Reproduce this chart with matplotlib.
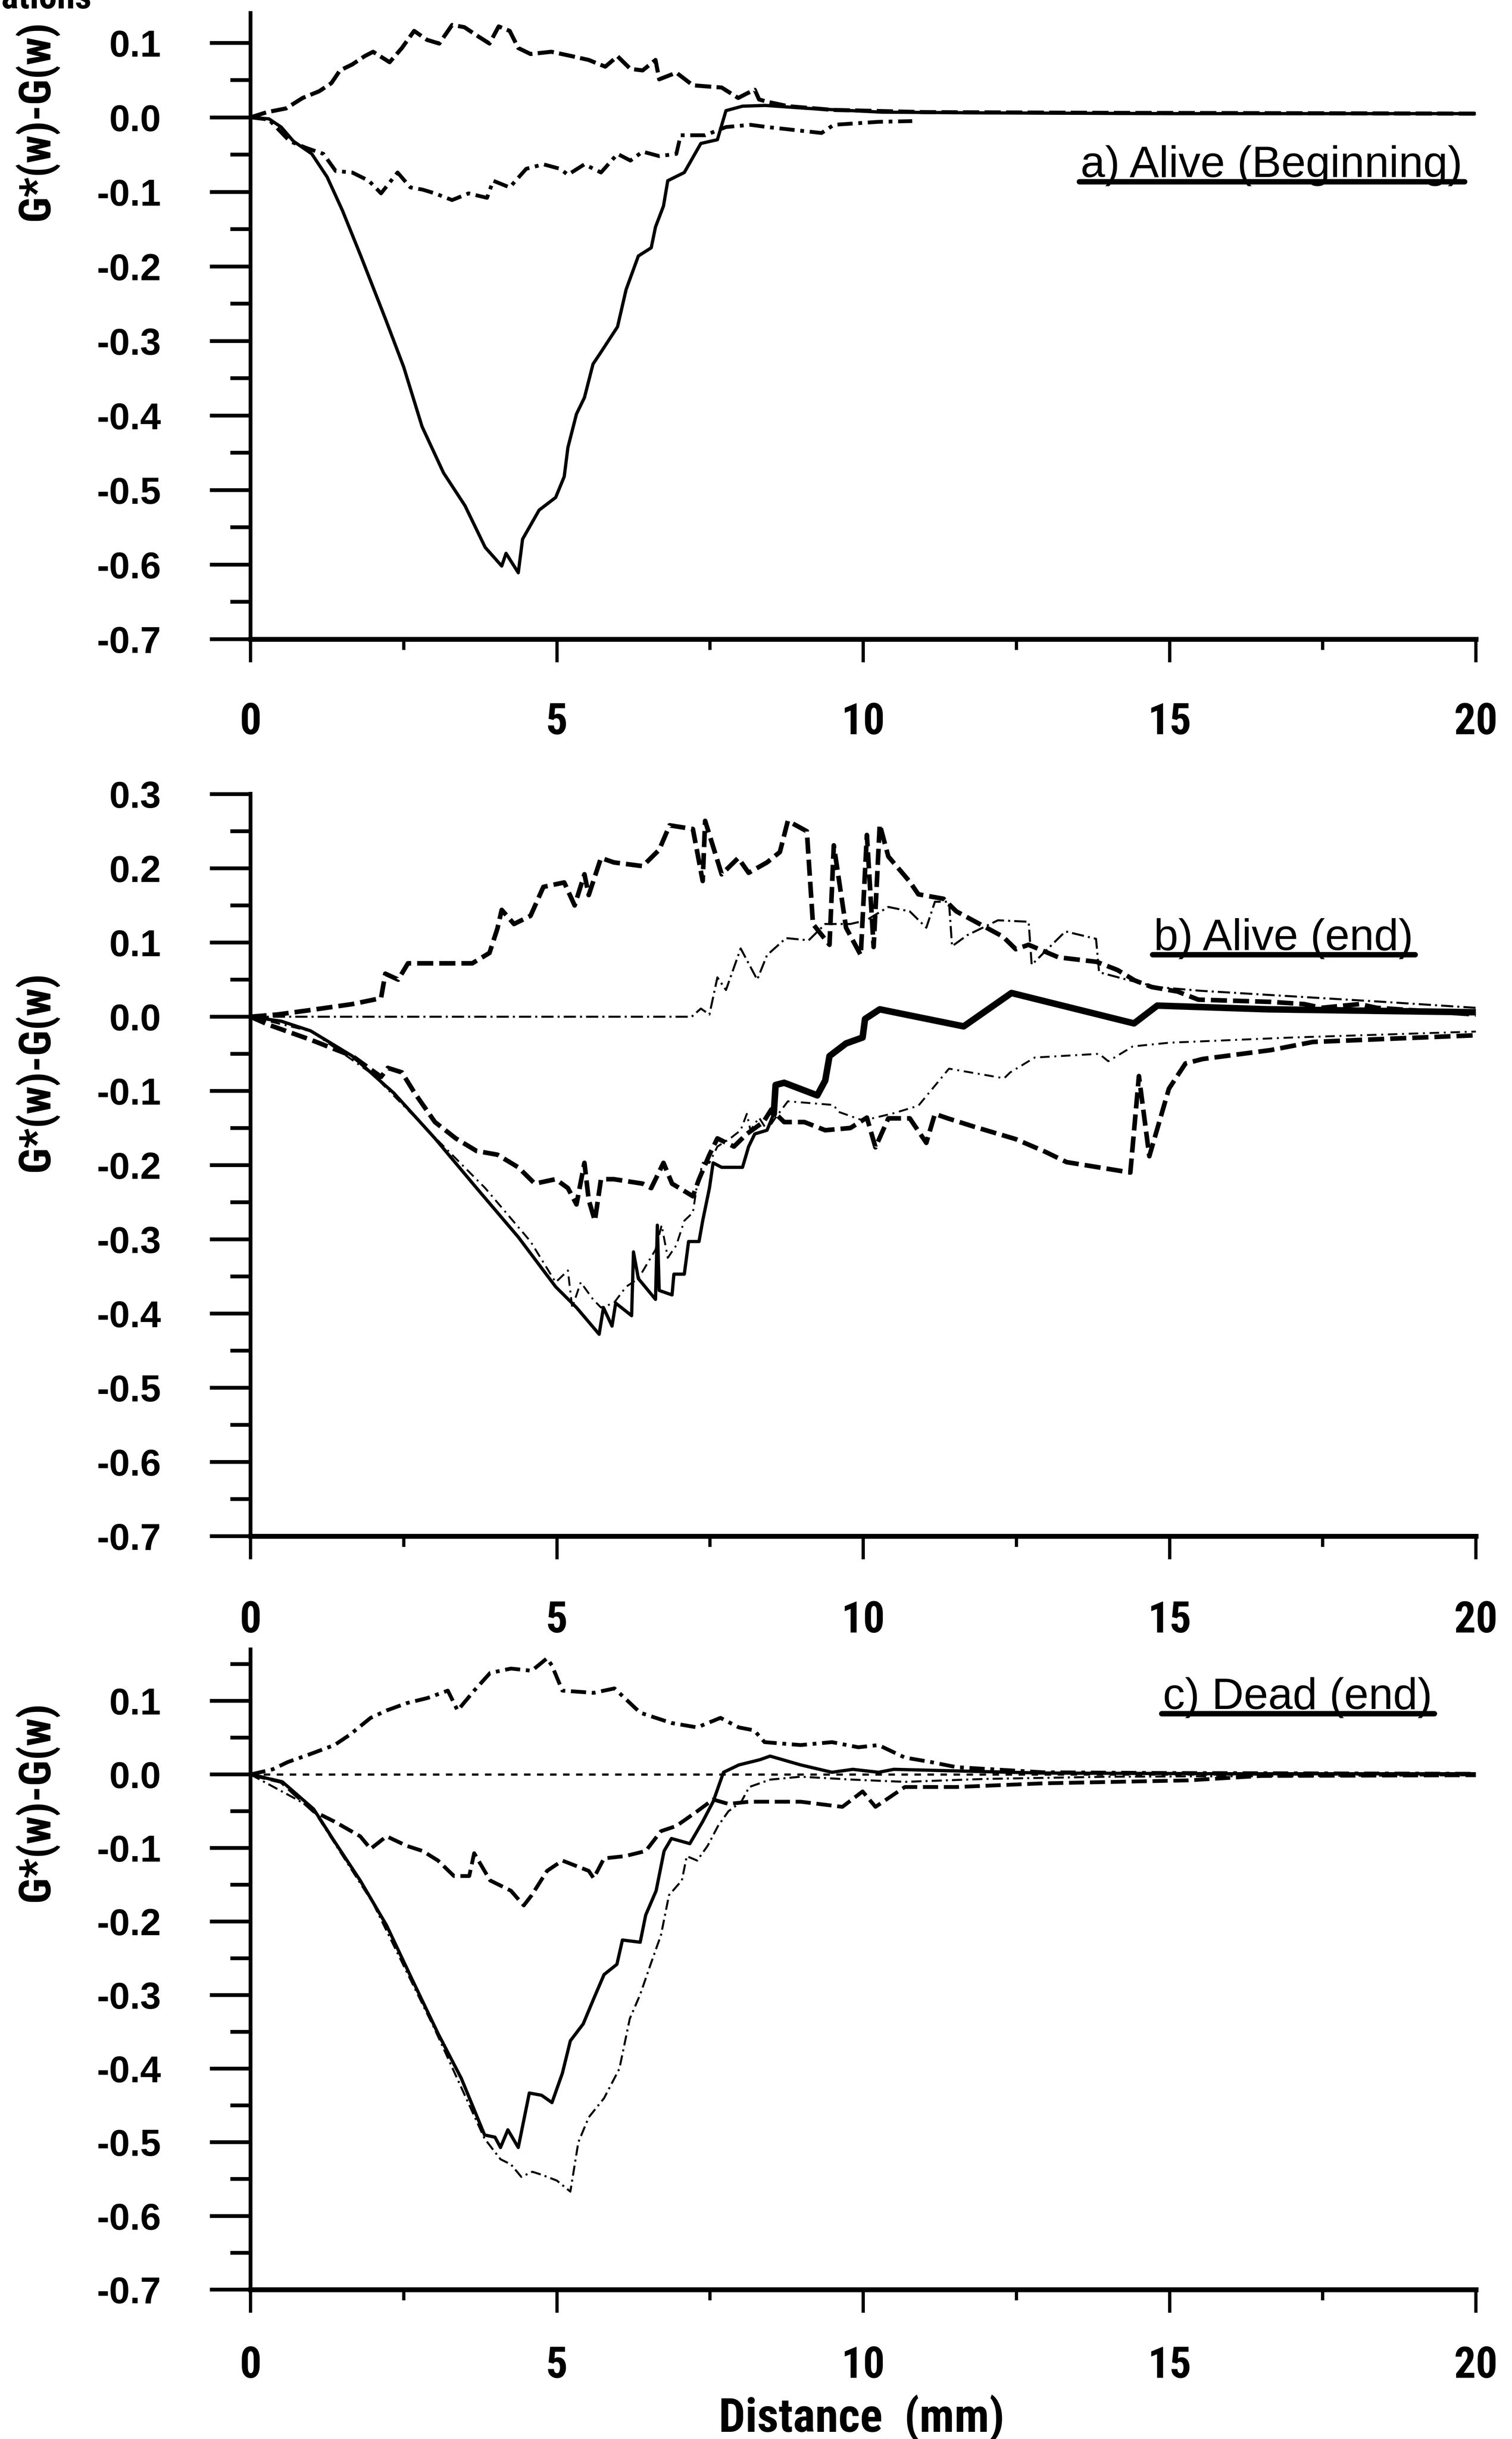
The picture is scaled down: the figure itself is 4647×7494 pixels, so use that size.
import numpy as np
import matplotlib
matplotlib.use("Agg")
import matplotlib.pyplot as plt
from matplotlib import font_manager
from matplotlib.font_manager import FontProperties
from matplotlib.ticker import MultipleLocator, FuncFormatter
from matplotlib.lines import Line2D

# ---------------------------------------------------------------- data
x_ticks = [0, 5, 10, 15, 20]
ylabel_text = "G*(w)-G(w)"
xlabel_text = "Distance  (mm)"
panel_titles = ["a) Alive (Beginning)", "b) Alive (end)", "c) Dead (end)"]

# a) Alive (Beginning)
a_solid_x = [0, 0.3, 0.5, 0.7, 1.0, 1.25, 1.5, 1.8, 2.2, 2.5, 2.8, 3.15, 3.5, 3.83, 4.1, 4.17,
             4.37, 4.44, 4.71, 4.98, 5.12, 5.18, 5.32, 5.45, 5.59, 5.72, 5.99, 6.13, 6.33, 6.54,
             6.61, 6.74, 6.81, 7.08, 7.35, 7.62, 7.76, 8.03, 8.4, 9.1, 10.3, 12, 15, 20]
a_solid_y = [0, -0.002, -0.013, -0.032, -0.049, -0.08, -0.125, -0.186, -0.27, -0.335, -0.415,
             -0.477, -0.521, -0.577, -0.602, -0.585, -0.611, -0.566, -0.527, -0.51, -0.482,
             -0.443, -0.398, -0.376, -0.331, -0.315, -0.281, -0.231, -0.186, -0.175, -0.147,
             -0.119, -0.085, -0.074, -0.035, -0.03, 0.009, 0.015, 0.016, 0.012, 0.007, 0.006,
             0.005, 0.005]
a_up_x = [0, 0.27, 0.58, 0.85, 1.12, 1.32, 1.46, 1.66, 1.86, 2.0, 2.27, 2.47, 2.67, 2.88, 3.08,
          3.29, 3.49, 3.69, 3.9, 4.05, 4.23, 4.37, 4.57, 4.91, 5.25, 5.52, 5.79, 5.99, 6.2,
          6.4, 6.61, 6.67, 6.95, 7.22, 7.69, 7.96, 8.1, 8.23, 8.3, 8.43, 8.77, 9.5, 11, 14, 20]
a_up_y = [0, 0.007, 0.012, 0.026, 0.035, 0.046, 0.063, 0.071, 0.082, 0.088, 0.074, 0.093,
          0.116, 0.104, 0.099, 0.124, 0.121, 0.11, 0.099, 0.122, 0.116, 0.093, 0.085, 0.088,
          0.082, 0.077, 0.068, 0.082, 0.065, 0.063, 0.077, 0.051, 0.06, 0.043, 0.04, 0.026,
          0.032, 0.037, 0.024, 0.021, 0.015, 0.01, 0.007, 0.006, 0.005]
a_low_x = [0, 0.3, 0.64, 0.91, 1.19, 1.39, 1.66, 1.93, 2.13, 2.4, 2.61, 2.81, 3.01, 3.29, 3.56,
           3.86, 3.96, 4.23, 4.5, 4.78, 5.05, 5.18, 5.45, 5.72, 5.99, 6.2, 6.4, 6.67, 6.95,
           7.02, 7.42, 7.76, 8.16, 8.43, 8.77, 9.32, 9.52, 10.25, 10.8]
a_low_y = [0, -0.003, -0.032, -0.041, -0.049, -0.072, -0.074, -0.085, -0.102, -0.074, -0.094,
           -0.097, -0.102, -0.111, -0.102, -0.108, -0.085, -0.094, -0.069, -0.063, -0.069,
           -0.077, -0.063, -0.074, -0.049, -0.058, -0.046, -0.052, -0.049, -0.024, -0.024,
           -0.013, -0.01, -0.013, -0.016, -0.021, -0.01, -0.006, -0.005]

# b) Alive (end)
b_solid_x = [0, 0.5, 0.98, 1.66, 2.34, 3.01, 3.69, 4.37, 4.98, 5.32, 5.69, 5.76, 5.9, 5.96,
             6.22, 6.25, 6.33, 6.61, 6.64, 6.67, 6.88, 6.91, 7.08, 7.15, 7.32, 7.38, 7.49,
             7.55, 7.69, 8.03, 8.13, 8.23, 8.43, 8.54, 8.57, 8.71, 9.25, 9.38, 9.45, 9.72,
             9.99, 10.03, 10.27, 11.64, 12.42, 14.42, 14.8, 16.6, 20]
b_solid_y = [0, -0.006, -0.019, -0.053, -0.103, -0.164, -0.231, -0.297, -0.364, -0.392,
             -0.428, -0.392, -0.417, -0.386, -0.403, -0.317, -0.353, -0.381, -0.281, -0.369,
             -0.375, -0.347, -0.347, -0.303, -0.303, -0.275, -0.231, -0.197, -0.203, -0.203,
             -0.175, -0.158, -0.153, -0.131, -0.092, -0.089, -0.106, -0.086, -0.053, -0.036,
             -0.028, -0.003, 0.01, -0.013, 0.032, -0.009, 0.015, 0.01, 0.006]
b_up_x = [0, 0.44, 0.98, 1.66, 2.13, 2.2, 2.41, 2.57, 3.62, 3.9, 4.03, 4.1, 4.3, 4.57, 4.78,
          5.12, 5.29, 5.45, 5.52, 5.72, 5.93, 6.4, 6.67, 6.84, 7.22, 7.38, 7.42, 7.69, 7.96,
          8.13, 8.43, 8.64, 8.77, 9.08, 9.18, 9.45, 9.52, 9.72, 9.96, 10.06, 10.17, 10.27,
          10.41, 10.76, 10.9, 11.31, 11.52, 12.28, 12.49, 12.7, 13.19, 13.81, 14.15, 14.43,
          14.71, 15.13, 15.47, 16.65, 17.2, 17.48, 18.1, 18.38, 20]
b_up_y = [0, 0.003, 0.009, 0.017, 0.025, 0.058, 0.05, 0.072, 0.072, 0.086, 0.119, 0.144,
          0.125, 0.136, 0.175, 0.181, 0.15, 0.192, 0.164, 0.214, 0.208, 0.203, 0.225, 0.258,
          0.253, 0.183, 0.264, 0.192, 0.214, 0.194, 0.208, 0.222, 0.264, 0.25, 0.125, 0.097,
          0.231, 0.12, 0.083, 0.245, 0.094, 0.259, 0.216, 0.182, 0.165, 0.159, 0.142, 0.108,
          0.091, 0.097, 0.08, 0.074, 0.063, 0.049, 0.04, 0.034, 0.023, 0.02, 0.017, 0.012,
          0.017, 0.012, 0.003]
b_low_x = [0, 0.3, 0.98, 1.66, 2.13, 2.24, 2.47, 2.68, 3.01, 3.35, 3.69, 4.03, 4.37, 4.64,
           4.98, 5.18, 5.32, 5.45, 5.52, 5.62, 5.72, 5.93, 6.4, 6.54, 6.74, 6.88, 7.22, 7.32,
           7.49, 7.62, 7.89, 8.1, 8.37, 8.5, 8.71, 9.04, 9.38, 9.79, 10.06, 10.2, 10.41,
           10.76, 11.03, 11.17, 11.38, 11.8, 12.49, 12.97, 13.32, 14.36, 14.5, 14.67, 14.99,
           15.26, 15.54, 16.65, 17.34, 18.5, 20]
b_low_y = [0, -0.011, -0.031, -0.053, -0.081, -0.069, -0.075, -0.103, -0.142, -0.164, -0.181,
           -0.186, -0.203, -0.225, -0.219, -0.231, -0.253, -0.197, -0.247, -0.275, -0.219,
           -0.219, -0.225, -0.231, -0.197, -0.225, -0.242, -0.219, -0.186, -0.164, -0.175,
           -0.158, -0.142, -0.125, -0.142, -0.142, -0.153, -0.15, -0.136, -0.176, -0.137,
           -0.137, -0.17, -0.131, -0.137, -0.148, -0.165, -0.182, -0.196, -0.21, -0.08,
           -0.188, -0.097, -0.063, -0.057, -0.045, -0.034, -0.03, -0.025]
b_flat_x = [0, 7.2, 7.35, 7.49, 7.62, 7.76, 8.0, 8.27, 8.43, 8.74, 9.11, 9.38, 9.79, 10.05,
            10.41, 10.76, 11.03, 11.17, 11.4, 11.45, 11.7, 12.2, 12.7, 12.75, 13.3, 13.8,
            13.85, 14.3, 14.8, 15.5, 16.5, 17.5, 18.5, 20]
b_flat_y = [0, 0, 0.011, 0.003, 0.053, 0.036, 0.092, 0.05, 0.083, 0.106, 0.103, 0.125, 0.125,
            0.13, 0.148, 0.142, 0.12, 0.155, 0.155, 0.095, 0.11, 0.13, 0.128, 0.07, 0.115,
            0.105, 0.06, 0.05, 0.04, 0.035, 0.03, 0.025, 0.02, 0.012]
b_dd_x = [0, 1.0, 2.0, 3.0, 3.83, 4.57, 4.98, 5.18, 5.25, 5.39, 5.59, 5.72, 5.93, 6.13, 6.33,
          6.61, 6.71, 6.81, 6.95, 7.08, 7.22, 7.28, 7.38, 7.49, 7.62, 7.83, 8.0, 8.1, 8.16,
          8.3, 8.43, 8.57, 8.77, 9.52, 9.59, 10.0, 10.5, 10.9, 11.2, 11.4, 12.3, 12.4, 12.8,
          13.85, 14.0, 14.4, 15.0, 17.0, 20]
b_dd_y = [0, -0.02, -0.078, -0.162, -0.231, -0.303, -0.358, -0.342, -0.392, -0.358, -0.381,
          -0.392, -0.386, -0.364, -0.353, -0.314, -0.281, -0.325, -0.308, -0.275, -0.264,
          -0.231, -0.197, -0.197, -0.175, -0.164, -0.153, -0.131, -0.153, -0.136, -0.153,
          -0.136, -0.114, -0.119, -0.128, -0.14, -0.13, -0.12, -0.09, -0.07, -0.083, -0.075,
          -0.055, -0.05, -0.06, -0.04, -0.035, -0.028, -0.02]

# c) Dead (end)
c_solid_x = [0, 0.52, 1.03, 1.37, 1.79, 2.22, 2.64, 3.06, 3.44, 3.82, 3.99, 4.08, 4.2, 4.37,
             4.55, 4.75, 4.92, 5.09, 5.22, 5.43, 5.6, 5.77, 5.98, 6.07, 6.36, 6.45, 6.62,
             6.75, 6.87, 7.17, 7.38, 7.55, 7.72, 7.97, 8.31, 8.48, 8.98, 9.49, 9.83, 10.25,
             10.5, 12.9, 16, 20]
c_solid_y = [0, -0.01, -0.047, -0.091, -0.144, -0.205, -0.279, -0.352, -0.413, -0.49, -0.493,
             -0.507, -0.483, -0.507, -0.433, -0.436, -0.446, -0.406, -0.362, -0.339, -0.305,
             -0.272, -0.258, -0.225, -0.228, -0.191, -0.158, -0.104, -0.087, -0.094, -0.064,
             -0.037, 0.003, 0.013, 0.02, 0.025, 0.013, 0.003, 0.007, 0.003, 0.007, 0.002,
             0.001, 0.001]
c_dd_x = [0, 1.0, 2.0, 3.0, 3.82, 4.08, 4.25, 4.42, 4.6, 4.75, 5.0, 5.22, 5.35, 5.52, 5.77,
          6.02, 6.19, 6.36, 6.53, 6.7, 6.83, 7.04, 7.12, 7.29, 7.46, 7.63, 7.8, 8.01, 8.14,
          8.48, 8.98, 9.83, 10.68, 12, 14, 20]
c_dd_y = [0, -0.045, -0.175, -0.345, -0.495, -0.523, -0.53, -0.547, -0.54, -0.544, -0.552,
          -0.567, -0.5, -0.466, -0.44, -0.4, -0.332, -0.299, -0.258, -0.218, -0.164, -0.144,
          -0.111, -0.117, -0.097, -0.07, -0.05, -0.037, -0.017, -0.007, -0.003, -0.007,
          -0.01, -0.006, -0.003, -0.001]
c_up_x = [0, 0.36, 0.61, 0.95, 1.37, 1.62, 1.96, 2.22, 2.55, 2.89, 3.22, 3.38, 3.65, 3.91,
          4.25, 4.59, 4.84, 4.92, 5.09, 5.6, 5.94, 6.36, 6.87, 7.29, 7.67, 7.97, 8.22, 8.39,
          8.98, 9.49, 9.92, 10.25, 10.68, 11.1, 11.52, 12.94, 15, 20]
c_up_y = [0, 0.007, 0.017, 0.027, 0.04, 0.054, 0.077, 0.087, 0.097, 0.104, 0.114, 0.087,
          0.114, 0.138, 0.144, 0.141, 0.158, 0.148, 0.114, 0.111, 0.117, 0.084, 0.07, 0.064,
          0.077, 0.064, 0.06, 0.044, 0.04, 0.044, 0.037, 0.04, 0.023, 0.017, 0.01, 0.003,
          0.002, 0.001]
c_low_x = [0, 0.5, 1.03, 1.37, 1.79, 1.96, 2.22, 2.55, 2.81, 3.06, 3.32, 3.57, 3.65, 3.91,
           4.25, 4.46, 4.59, 4.84, 5.09, 5.52, 5.6, 5.77, 6.11, 6.45, 6.7, 6.95, 7.29, 7.55,
           7.8, 8.14, 8.98, 9.66, 9.99, 10.2, 10.68, 11.52, 12.94, 15.3, 16.5, 20]
c_low_y = [0, -0.01, -0.05, -0.064, -0.084, -0.101, -0.084, -0.097, -0.104, -0.117, -0.138,
           -0.138, -0.107, -0.144, -0.158, -0.178, -0.164, -0.131, -0.117, -0.131, -0.141,
           -0.114, -0.111, -0.104, -0.077, -0.07, -0.05, -0.034, -0.04, -0.037, -0.037,
           -0.044, -0.023, -0.044, -0.017, -0.017, -0.012, -0.008, -0.002, -0.001]
c_flat_x = [0, 20]
c_flat_y = [0, 0]

# ---------------------------------------------------------------- fonts
plt.rcParams["font.family"] = ["Liberation Sans", "DejaVu Sans"]
plt.rcParams["font.weight"] = "bold"


def find_condensed_bold():
    """Return a narrow bold face if one is installed."""
    best = None
    for f in font_manager.fontManager.ttflist:
        narrow = (f.stretch in ("condensed", "semi-condensed", "extra-condensed")
                  or "Narrow" in f.name or "Condensed" in f.name)
        weight = f.weight if isinstance(f.weight, int) else (700 if "bold" in str(f.weight) else 400)
        if narrow and weight >= 600 and f.style == "normal":
            score = 0 if "Liberation" in f.name else (1 if "Roboto" in f.name else 2)
            if best is None or score < best[0]:
                best = (score, f.fname)
    return best[1] if best else None


cond_path = find_condensed_bold()


def narrow_font(size):
    if cond_path:
        return FontProperties(fname=cond_path, size=size * 1.12)
    return FontProperties(family=["Liberation Sans", "DejaVu Sans"], weight="bold", size=size)


W, H, DPI = 4647, 7494, 300
fig = plt.figure(figsize=(W / DPI, H / DPI), dpi=DPI, facecolor="white")

LEFT, WIDTH = 770 / W, 3766 / W
YT = 27.5    # y tick labels
XT = 28.5    # x tick labels


def fmt_y(v, pos):
    if abs(v) < 1e-9:
        return "0.0"
    return f"{v:.1f}"


def make_axes(bottom_px, top_px, ytop, xpad):
    ax = fig.add_axes([LEFT, 1 - bottom_px / H, WIDTH, (bottom_px - top_px) / H])
    ax.set_xlim(0, 20)
    ax.set_ylim(-0.7002, ytop)
    ax.patch.set_alpha(0)
    for s in ("top", "right"):
        ax.spines[s].set_visible(False)
    ax.spines["left"].set_linewidth(2.8)
    ax.spines["bottom"].set_linewidth(3.6)
    ax.xaxis.set_major_locator(MultipleLocator(5))
    ax.xaxis.set_minor_locator(MultipleLocator(2.5))
    ax.yaxis.set_major_locator(MultipleLocator(0.1))
    ax.yaxis.set_minor_locator(MultipleLocator(0.05))
    ax.tick_params(axis="x", which="major", direction="out", length=17, width=2.4,
                   pad=xpad, labelsize=XT)
    ax.tick_params(axis="x", which="minor", direction="out", length=8, width=2.4)
    ax.tick_params(axis="y", which="major", direction="out", length=30, width=2.8,
                   pad=36, labelsize=YT)
    ax.tick_params(axis="y", which="minor", direction="out", length=15, width=2.8)
    ax.set_xticks(x_ticks)
    ax.xaxis.set_major_formatter(FuncFormatter(lambda v, p: f"{v:.0f}"))
    ax.yaxis.set_major_formatter(FuncFormatter(fmt_y))
    for tk in ax.xaxis.get_major_ticks():
        tk.label1.set_fontproperties(narrow_font(XT))
    return ax


ax_a = make_axes(1964, 40, 0.14, 29)
ax_b = make_axes(4720, 2439, 0.3005, 30)
ax_c = make_axes(7035, 5068, 0.17, 24)

K = "black"
# panel a
ax_a.plot(a_solid_x, a_solid_y, color=K, lw=2.4, solid_joinstyle="round")
ax_a.plot(a_up_x, a_up_y, color=K, lw=3.0, ls=(0, (4, 1.3)))
ax_a.plot(a_low_x, a_low_y, color=K, lw=2.8, ls=(0, (4, 1.5, 1, 1.5)))

# panel b
ax_b.plot(b_flat_x, b_flat_y, color=K, lw=1.5, ls=(0, (6, 2, 1, 2)))
ax_b.plot(b_dd_x, b_dd_y, color=K, lw=1.4, ls=(0, (5, 2.5, 1, 2.5)))
ax_b.plot(b_up_x, b_up_y, color=K, lw=3.4, ls=(0, (3.5, 1.3)))
ax_b.plot(b_low_x, b_low_y, color=K, lw=3.4, ls=(0, (3.5, 1.3)))
ax_b.plot(b_solid_x, b_solid_y, color=K, lw=2.4)
bx = np.array(b_solid_x)
by = np.array(b_solid_y)
heavy = bx >= 8.5
ax_b.plot(bx[heavy], by[heavy], color=K, lw=4.8, solid_capstyle="round")

# panel c
ax_c.plot(c_flat_x, c_flat_y, color=K, lw=1.6, ls=(0, (3, 3)))
ax_c.plot(c_dd_x, c_dd_y, color=K, lw=1.5, ls=(0, (5, 2, 1, 2)))
ax_c.plot(c_up_x, c_up_y, color=K, lw=2.8, ls=(0, (4, 1.5, 1, 1.5)))
ax_c.plot(c_low_x, c_low_y, color=K, lw=2.8, ls=(0, (4, 1.5)))
ax_c.plot(c_solid_x, c_solid_y, color=K, lw=2.4)

# panel titles (regular weight, underlined)
titles = []
for ax, txt, (tx, ty) in zip((ax_a, ax_b, ax_c), panel_titles,
                             ((13.55, -0.08), (14.74, 0.09), (14.89, 0.089))):
    t = ax.text(tx, ty, txt, fontsize=32.5, family=["Liberation Sans", "DejaVu Sans"],
                fontweight="normal", ha="left", va="baseline")
    titles.append((ax, t, tx, ty))

# y-axis labels
for yc in (0.9505, 0.5607, 0.2613):
    fig.text(111 / W, yc, ylabel_text, rotation=90, ha="center", va="center",
             fontproperties=narrow_font(29))

# x-axis label
fig.text(2648 / W, 1 - 7431 / H, xlabel_text, ha="center", va="center",
         fontproperties=narrow_font(31))

# running header clipped at the top edge
fig.text(4 / W, 1 - 26 / H, "ations", ha="left", va="baseline",
         fontproperties=narrow_font(24))

# underline the panel titles
fig.canvas.draw()
renderer = fig.canvas.get_renderer()
fw, fh = fig.bbox.width, fig.bbox.height
for ax, t, tx, ty in titles:
    bb = t.get_window_extent(renderer)
    base = ax.transData.transform((tx, ty))[1]
    yl = (base - 14) / fh
    fig.add_artist(Line2D([(bb.x0 - 4) / fw, (bb.x1 + 6) / fw], [yl, yl],
                          transform=fig.transFigure, color=K, lw=4.0,
                          solid_capstyle="round"))

fig.savefig("out.png", dpi=DPI, facecolor="white")
